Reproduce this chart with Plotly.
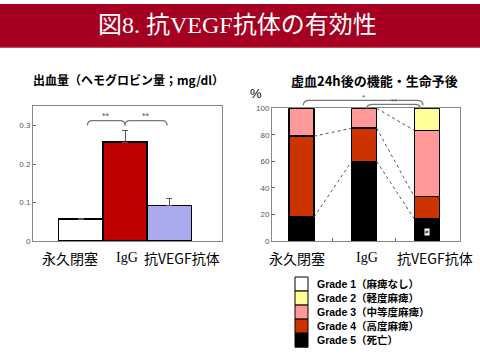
import plotly.graph_objects as go

# ---------------- data ----------------
title_text = "図8. 抗VEGF抗体の有効性"
left_title = "出血量（ヘモグロビン量；mg/dl）"
right_title = "虚血24h後の機能・生命予後"
groups = ["永久閉塞", "IgG", "抗VEGF抗体"]

hb_values = [0.057, 0.257, 0.092]
hb_errors = [0.001, 0.030, 0.018]
hb_colors = ["#FFFFFF", "#C00000", "#AAAAEE"]
hb_ticks = [0, 0.1, 0.2, 0.3]
hb_ticktext = ["0", "0.1", "0.2", "0.3"]
hb_brackets = [(0.15, 1.0, "**"), (1.0, 1.95, "**")]  # (from, to, label) in category units

grade_names = ["Grade 1（麻痺なし）", "Grade 2（軽度麻痺）", "Grade 3（中等度麻痺）",
               "Grade 4（高度麻痺）", "Grade 5（死亡）"]
grade_colors = ["#FFFFFF", "#FFFF99", "#FF9999", "#CC3300", "#000000"]
grade_values = {  # percentages per group, keyed by grade index (1..5)
    5: [18, 60, 16.7],
    4: [61, 25, 16.7],
    3: [21, 15, 50],
    2: [0, 0, 16.6],
    1: [0, 0, 0],
}
pct_ticks = [0, 20, 40, 60, 80, 100]
pct_brackets = [(0.03, 1.94, "*", 106), (1.04, 1.9, "**", 103)]

# ---------------- layout helpers ----------------
W, H = 480, 360
def px(x): return x / W
def py(y): return 1 - y / H

L_DOM_X = [px(33), px(222)]
L_DOM_Y = [py(243), py(105)]
L_RANGE_X = [-1.08, 3.19]
L_RANGE_Y = [0, 0.35]
R_DOM_X = [px(272), px(460)]
R_DOM_Y = [py(243), py(107)]
R_RANGE_X = [-0.47, 2.53]
R_RANGE_Y = [0, 100]

def to_paper(v, dom, rng):
    return dom[0] + (v - rng[0]) / (rng[1] - rng[0]) * (dom[1] - dom[0])

JP = "Noto Sans CJK JP"
fig = go.Figure()

# ---- left: hemoglobin bars ----
fig.add_trace(go.Bar(
    x=[0, 1, 2], y=hb_values, width=1,
    marker=dict(color=hb_colors, line=dict(color="black", width=1.5)),
    error_y=dict(type="data", array=hb_errors, arrayminus=[0, 0, 0], symmetric=False,
                 color="#555555", thickness=1, width=3),
    xaxis="x", yaxis="y", showlegend=False, hoverinfo="skip"))

# ---- right: stacked grades ----
for g in [5, 4, 3, 2, 1]:
    fig.add_trace(go.Bar(
        x=[0, 1, 2], y=grade_values[g], width=0.4,
        marker=dict(color=grade_colors[g - 1], line=dict(color="black", width=1.5)),
        xaxis="x2", yaxis="y2", showlegend=False, name=grade_names[g - 1], hoverinfo="skip"))

# dotted connectors between adjacent stacks (cumulative boundaries)
def cumul(i):
    out, s = [], 0
    for g in [5, 4, 3, 2]:
        s += grade_values[g][i]
        out.append(s)
    return out
c0, c1, c2 = cumul(0), cumul(1), cumul(2)
connectors = [(0, c0[0], 1, c1[0]), (0, c0[1], 1, c1[1]),
              (1, c1[0], 2, c2[0]), (1, c1[1], 2, c2[1]), (1, c1[2], 2, c2[2])]
for a, ya, b, yb in connectors:
    fig.add_trace(go.Scatter(
        x=[a + 0.2, b - 0.2], y=[ya, yb], mode="lines",
        line=dict(color="#555555", width=1, dash="dot"),
        xaxis="x2", yaxis="y2", showlegend=False, hoverinfo="skip"))

shapes = []
annotations = []

def text(t, x, y, size, family=JP, color="black", xanchor="center", **kw):
    annotations.append(dict(text=t, x=x, y=y, xref=kw.pop("xref", "paper"), yref=kw.pop("yref", "paper"),
                            xanchor=xanchor, yanchor="middle", showarrow=False,
                            font=dict(family=family, size=size, color=color), **kw))

# title bar
shapes.append(dict(type="rect", xref="paper", yref="paper", x0=0, x1=1, y0=py(45), y1=1,
                   fillcolor="#A50021", line=dict(width=0), layer="below"))
shapes.append(dict(type="line", xref="paper", yref="paper", x0=0, x1=1, y0=py(44.5), y1=py(44.5),
                   line=dict(color="#C9505F", width=1)))
text(title_text, px(237), py(22), 24, family="Liberation Serif, " + JP, color="white")

# subplot titles
text("<b>" + left_title + "</b>", px(128), py(77), 12)
text("<b>" + right_title + "</b>", px(374), py(78), 13)
text("%", px(256), py(92), 13, family="Liberation Sans")

# category labels
label_shift_left = [-11, 2, 13]
label_shift_right = [-4, 3, 8]
for i, g in enumerate(groups):
    fam = ("Liberation Serif, " + JP) if g == "IgG" else JP
    text(g, to_paper(i, L_DOM_X, L_RANGE_X), py(260), 14, family=fam, xshift=label_shift_left[i])
    text(g, to_paper(i, R_DOM_X, R_RANGE_X), py(260), 14, family=fam, xshift=label_shift_right[i])

# brackets
def bracket(x1, x2, y, h, r):
    return (f"M {x1},{y - h} Q {x1},{y} {x1 + r},{y} L {x2 - r},{y} "
            f"Q {x2},{y} {x2},{y - h}")

for a, b, lab in hb_brackets:
    xa, xb = to_paper(a, L_DOM_X, L_RANGE_X), to_paper(b, L_DOM_X, L_RANGE_X)
    yy = to_paper(0.313, L_DOM_Y, L_RANGE_Y)
    shapes.append(dict(type="path", xref="paper", yref="paper", path=bracket(xa, xb, yy, 5 / H, 5 / W),
                       line=dict(color="#777777", width=1.2)))
    text(lab, (xa + xb) / 2, yy + 5 / H, 9, family="Liberation Sans", color="#555555")

for a, b, lab, yv in pct_brackets:
    xa, xb = to_paper(a, R_DOM_X, R_RANGE_X), to_paper(b, R_DOM_X, R_RANGE_X)
    yy = to_paper(yv, R_DOM_Y, R_RANGE_Y)
    shapes.append(dict(type="path", xref="paper", yref="paper", path=bracket(xa, xb, yy, 5 / H, 6 / W),
                       line=dict(color="#777777", width=1.2)))
    text(lab, (xa + xb) / 2, yy + 3 / H, 8, family="Liberation Sans", color="#555555")

# '#' marker in VEGF death segment
text("#", 2, 7, 6, family="Liberation Sans", xref="x2", yref="y2", bgcolor="white", borderpad=0)

# manual legend (column of touching swatches)
sw_top, sw_h = 280, 14.4
for k, (name, col) in enumerate(zip(grade_names, grade_colors)):
    y0 = sw_top + k * sw_h
    shapes.append(dict(type="rect", xref="paper", yref="paper", x0=px(295), x1=px(308),
                       y0=py(y0 + sw_h), y1=py(y0), fillcolor=col, line=dict(color="black", width=1)))
    text("<b>" + name + "</b>", px(315), py(y0 + sw_h / 2), 10.5,
         family="Liberation Sans, " + JP, xanchor="left")

axis_common = dict(showgrid=False, zeroline=False, showline=True, mirror=True,
                   linecolor="#888888", linewidth=1, fixedrange=True)

fig.update_layout(
    width=W, height=H, margin=dict(l=0, r=0, t=0, b=0),
    paper_bgcolor="white", plot_bgcolor="white",
    barmode="stack", showlegend=False,
    xaxis=dict(domain=L_DOM_X, range=L_RANGE_X, showticklabels=False, ticks="", **axis_common),
    yaxis=dict(domain=L_DOM_Y, range=L_RANGE_Y, tickvals=hb_ticks, ticktext=hb_ticktext,
               ticks="inside", ticklen=3, tickcolor="#666666",
               tickfont=dict(family="Liberation Sans", size=8, color="#555555"), **axis_common),
    xaxis2=dict(domain=R_DOM_X, range=R_RANGE_X, tickvals=[0.5, 1.5], showticklabels=False,
                ticks="inside", ticklen=3, tickcolor="#666666", anchor="y2", **axis_common),
    yaxis2=dict(domain=R_DOM_Y, range=R_RANGE_Y, tickvals=pct_ticks, anchor="x2",
                ticks="inside", ticklen=3, tickcolor="#666666",
                tickfont=dict(family="Liberation Sans", size=8, color="#555555"), **axis_common),
    shapes=shapes, annotations=annotations,
)

fig.write_html("out.html", config={"displayModeBar": False},
               post_script="document.body.style.margin='0';")
